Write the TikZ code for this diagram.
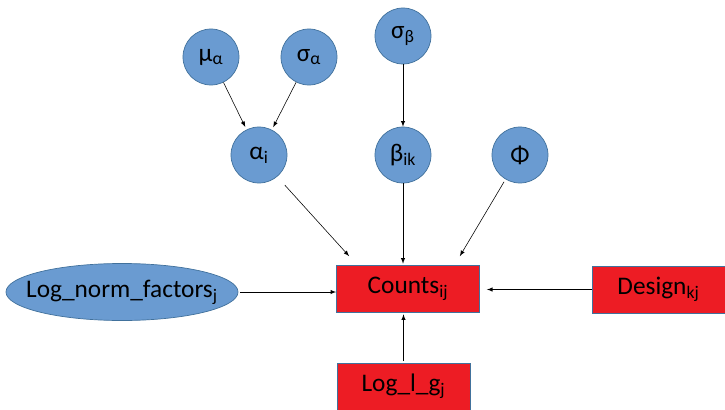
\documentclass[tikz,border=0pt]{standalone}
\usepackage{fontspec}
\setmainfont{Carlito}
\usetikzlibrary{shapes.geometric}

\definecolor{parblue}{HTML}{6A9BD1}
\definecolor{edgeblue}{HTML}{41719C}
\definecolor{datared}{HTML}{ED1C24}

\begin{document}
\begin{tikzpicture}[
  x=0.025cm, y=-0.025cm,
  every node/.style={font=\fontsize{18}{21}\selectfont, draw=edgeblue, line width=0.5pt, inner sep=0pt},
  param/.style={circle, fill=parblue, minimum size=1.4cm},
  data/.style={rectangle, fill=datared, minimum height=1.175cm},
  link/.style={-latex, thin}
]
\useasboundingbox (0,0) rectangle (725,409);

\node[param] (mu) at (211,57) {μ\textsubscript{α}};
\node[param] (sa) at (309,57) {σ\textsubscript{α}};
\node[param] (sb) at (403,36) {σ\textsubscript{β}};
\node[param] (alpha) at (259,155) {α\textsubscript{i}};
\node[param] (beta) at (403,155) {β\textsubscript{ik}};
\node[param] (phi) at (520,155) {Φ};

\node[data, minimum width=3.575cm] (counts) at (408,289) {Counts\textsubscript{ij}};
\node[data, minimum width=3.325cm] (design) at (658.5,289.5) {Design\textsubscript{kj}};
\node[data, minimum width=3.325cm] (logl) at (403.5,386.5) {Log\_l\_g\textsubscript{j}};
\node[ellipse, fill=parblue, inner xsep=-0.6cm, minimum width=5.8cm, minimum height=1.425cm] (lognorm) at (122,292) {Log\_norm\_factors\textsubscript{j}};

\draw[link, shorten >=2pt] (mu) -- (alpha);
\draw[link, shorten >=2pt] (sa) -- (alpha);
\draw[link] (sb) -- (beta);
\draw[link, shorten <=8pt] (alpha.-50) -- ([shift={(13,-9)}]counts.north west);
\draw[link, shorten >=1pt] (beta) -- (beta |- counts.north);
\draw[link, shorten <=2pt] (phi) -- ([shift={(-20,-9)}]counts.north east);
\draw[link, shorten <=1pt] (lognorm) -- (lognorm -| counts.west);
\draw[link, shorten >=5pt] (design) -- (design -| counts.east);
\draw[link, shorten <=1pt, shorten >=1pt] (logl) -- (logl |- counts.south);
\end{tikzpicture}
\end{document}
